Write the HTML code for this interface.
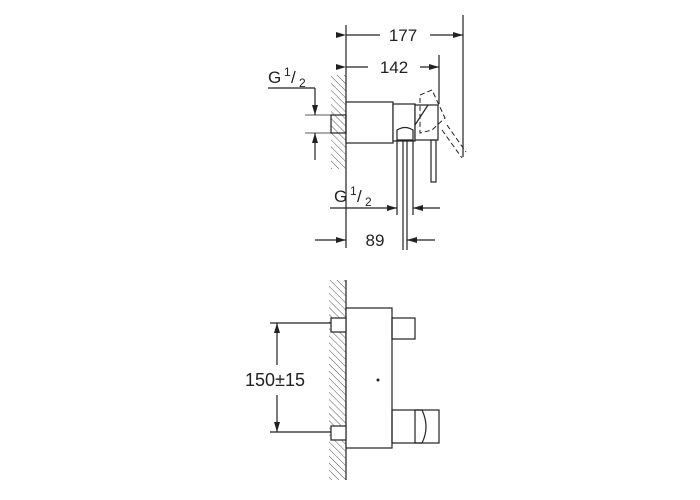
<!DOCTYPE html>
<html><head><style>html,body{margin:0;padding:0;background:#fff}svg{display:block}</style></head><body>
<svg width="700" height="500" viewBox="0 0 700 500" xmlns="http://www.w3.org/2000/svg" font-family="Liberation Sans, sans-serif">
<defs>
<pattern id="h" width="5" height="5" patternUnits="userSpaceOnUse" patternTransform="rotate(-45)">
<line x1="0" y1="0" x2="0" y2="5" stroke="#555" stroke-width="1"/>
</pattern>
<marker id="a" viewBox="0 0 10 6" refX="10" refY="3" markerWidth="10" markerHeight="6" orient="auto" markerUnits="userSpaceOnUse">
<path d="M0,0 L10,3 L0,6z" fill="#222"/></marker>
</defs>
<g stroke="#222" stroke-width="1.2" fill="none">
<!-- top view -->
<rect x="331" y="75" width="15" height="94" fill="url(#h)" stroke="none"/>
<line x1="346" y1="25" x2="346" y2="169"/>
<line x1="463" y1="15" x2="463" y2="157"/>
<line x1="439" y1="55" x2="439" y2="104"/>
<line x1="346" y1="35" x2="380" y2="35" marker-start="url(#a)"/>
<line x1="430" y1="35" x2="463" y2="35" marker-end="url(#a)"/>
<line x1="346" y1="67" x2="368" y2="67" marker-start="url(#a)"/>
<line x1="420" y1="67" x2="439" y2="67" marker-end="url(#a)"/>
<rect x="346" y="102" width="47" height="41" fill="#fff"/>
<rect x="393" y="104" width="22" height="37" fill="#fff"/>
<rect x="415" y="105" width="23" height="35" fill="#fff"/>
<path d="M415,125 L428,105"/>
<rect x="431" y="140" width="5" height="42"/>
<rect x="331" y="115" width="15" height="18"/>
<path d="M397,140 L397,130 Q405,125 413,130 L413,140 Z" fill="#fff"/>
<line x1="397" y1="140" x2="397" y2="215"/>
<line x1="413" y1="140" x2="413" y2="215"/>
<line x1="403" y1="140" x2="403" y2="250"/>
<line x1="407" y1="140" x2="407" y2="250"/>
<path d="M420,95 L432,90 L445,118 L432,130 L420,133 Z" stroke-dasharray="5,3" stroke-width="1"/>
<path d="M442,130 L462,158 M447,125 L466,152" stroke-dasharray="5,3" stroke-width="1"/>
<line x1="268" y1="88" x2="315" y2="88"/>
<line x1="315" y1="88" x2="315" y2="115" marker-end="url(#a)"/>
<line x1="315" y1="160" x2="315" y2="133" marker-end="url(#a)"/>
<line x1="305" y1="115" x2="331" y2="115" stroke-width="0.8"/>
<line x1="305" y1="133" x2="331" y2="133" stroke-width="0.8"/>
<line x1="330" y1="208" x2="397" y2="208" marker-end="url(#a)"/>
<line x1="440" y1="208" x2="413" y2="208" marker-end="url(#a)"/>
<line x1="315" y1="240" x2="346" y2="240" marker-end="url(#a)"/>
<line x1="435" y1="240" x2="407" y2="240" marker-end="url(#a)"/>
<line x1="346" y1="169" x2="346" y2="248"/>
<!-- bottom view -->
<rect x="329" y="280" width="17" height="200" fill="url(#h)" stroke="none"/>
<line x1="346" y1="280" x2="346" y2="480"/>
<rect x="346" y="308" width="46" height="140" fill="#fff"/>
<rect x="331" y="318" width="15" height="14" fill="#fff"/>
<rect x="331" y="426" width="15" height="14" fill="#fff"/>
<rect x="392" y="318" width="23" height="21"/>
<rect x="392" y="410" width="47" height="33"/>
<path d="M415,410 L415,443 L422,443 Q430,427 422,410 Z"/>
<line x1="270" y1="323" x2="331" y2="323"/>
<line x1="270" y1="432" x2="331" y2="432"/>
<line x1="277" y1="365" x2="277" y2="323" marker-end="url(#a)"/>
<line x1="277" y1="395" x2="277" y2="432" marker-end="url(#a)"/>
</g>
<circle cx="378" cy="380" r="1.5" fill="#222"/>
<g fill="#222" font-size="17">
<text x="403" y="41" text-anchor="middle">177</text>
<text x="394" y="73" text-anchor="middle">142</text>
<text x="268" y="83">G</text><text x="284" y="76" font-size="12">1</text><text x="291" y="83">/</text><text x="299" y="87" font-size="12">2</text>
<text x="334" y="202">G</text><text x="350" y="195" font-size="12">1</text><text x="357" y="202">/</text><text x="365" y="206" font-size="12">2</text>
<text x="375" y="246" text-anchor="middle">89</text>
<text x="275" y="386" text-anchor="middle" font-size="18">150±15</text>
</g>
</svg>
</body></html>
